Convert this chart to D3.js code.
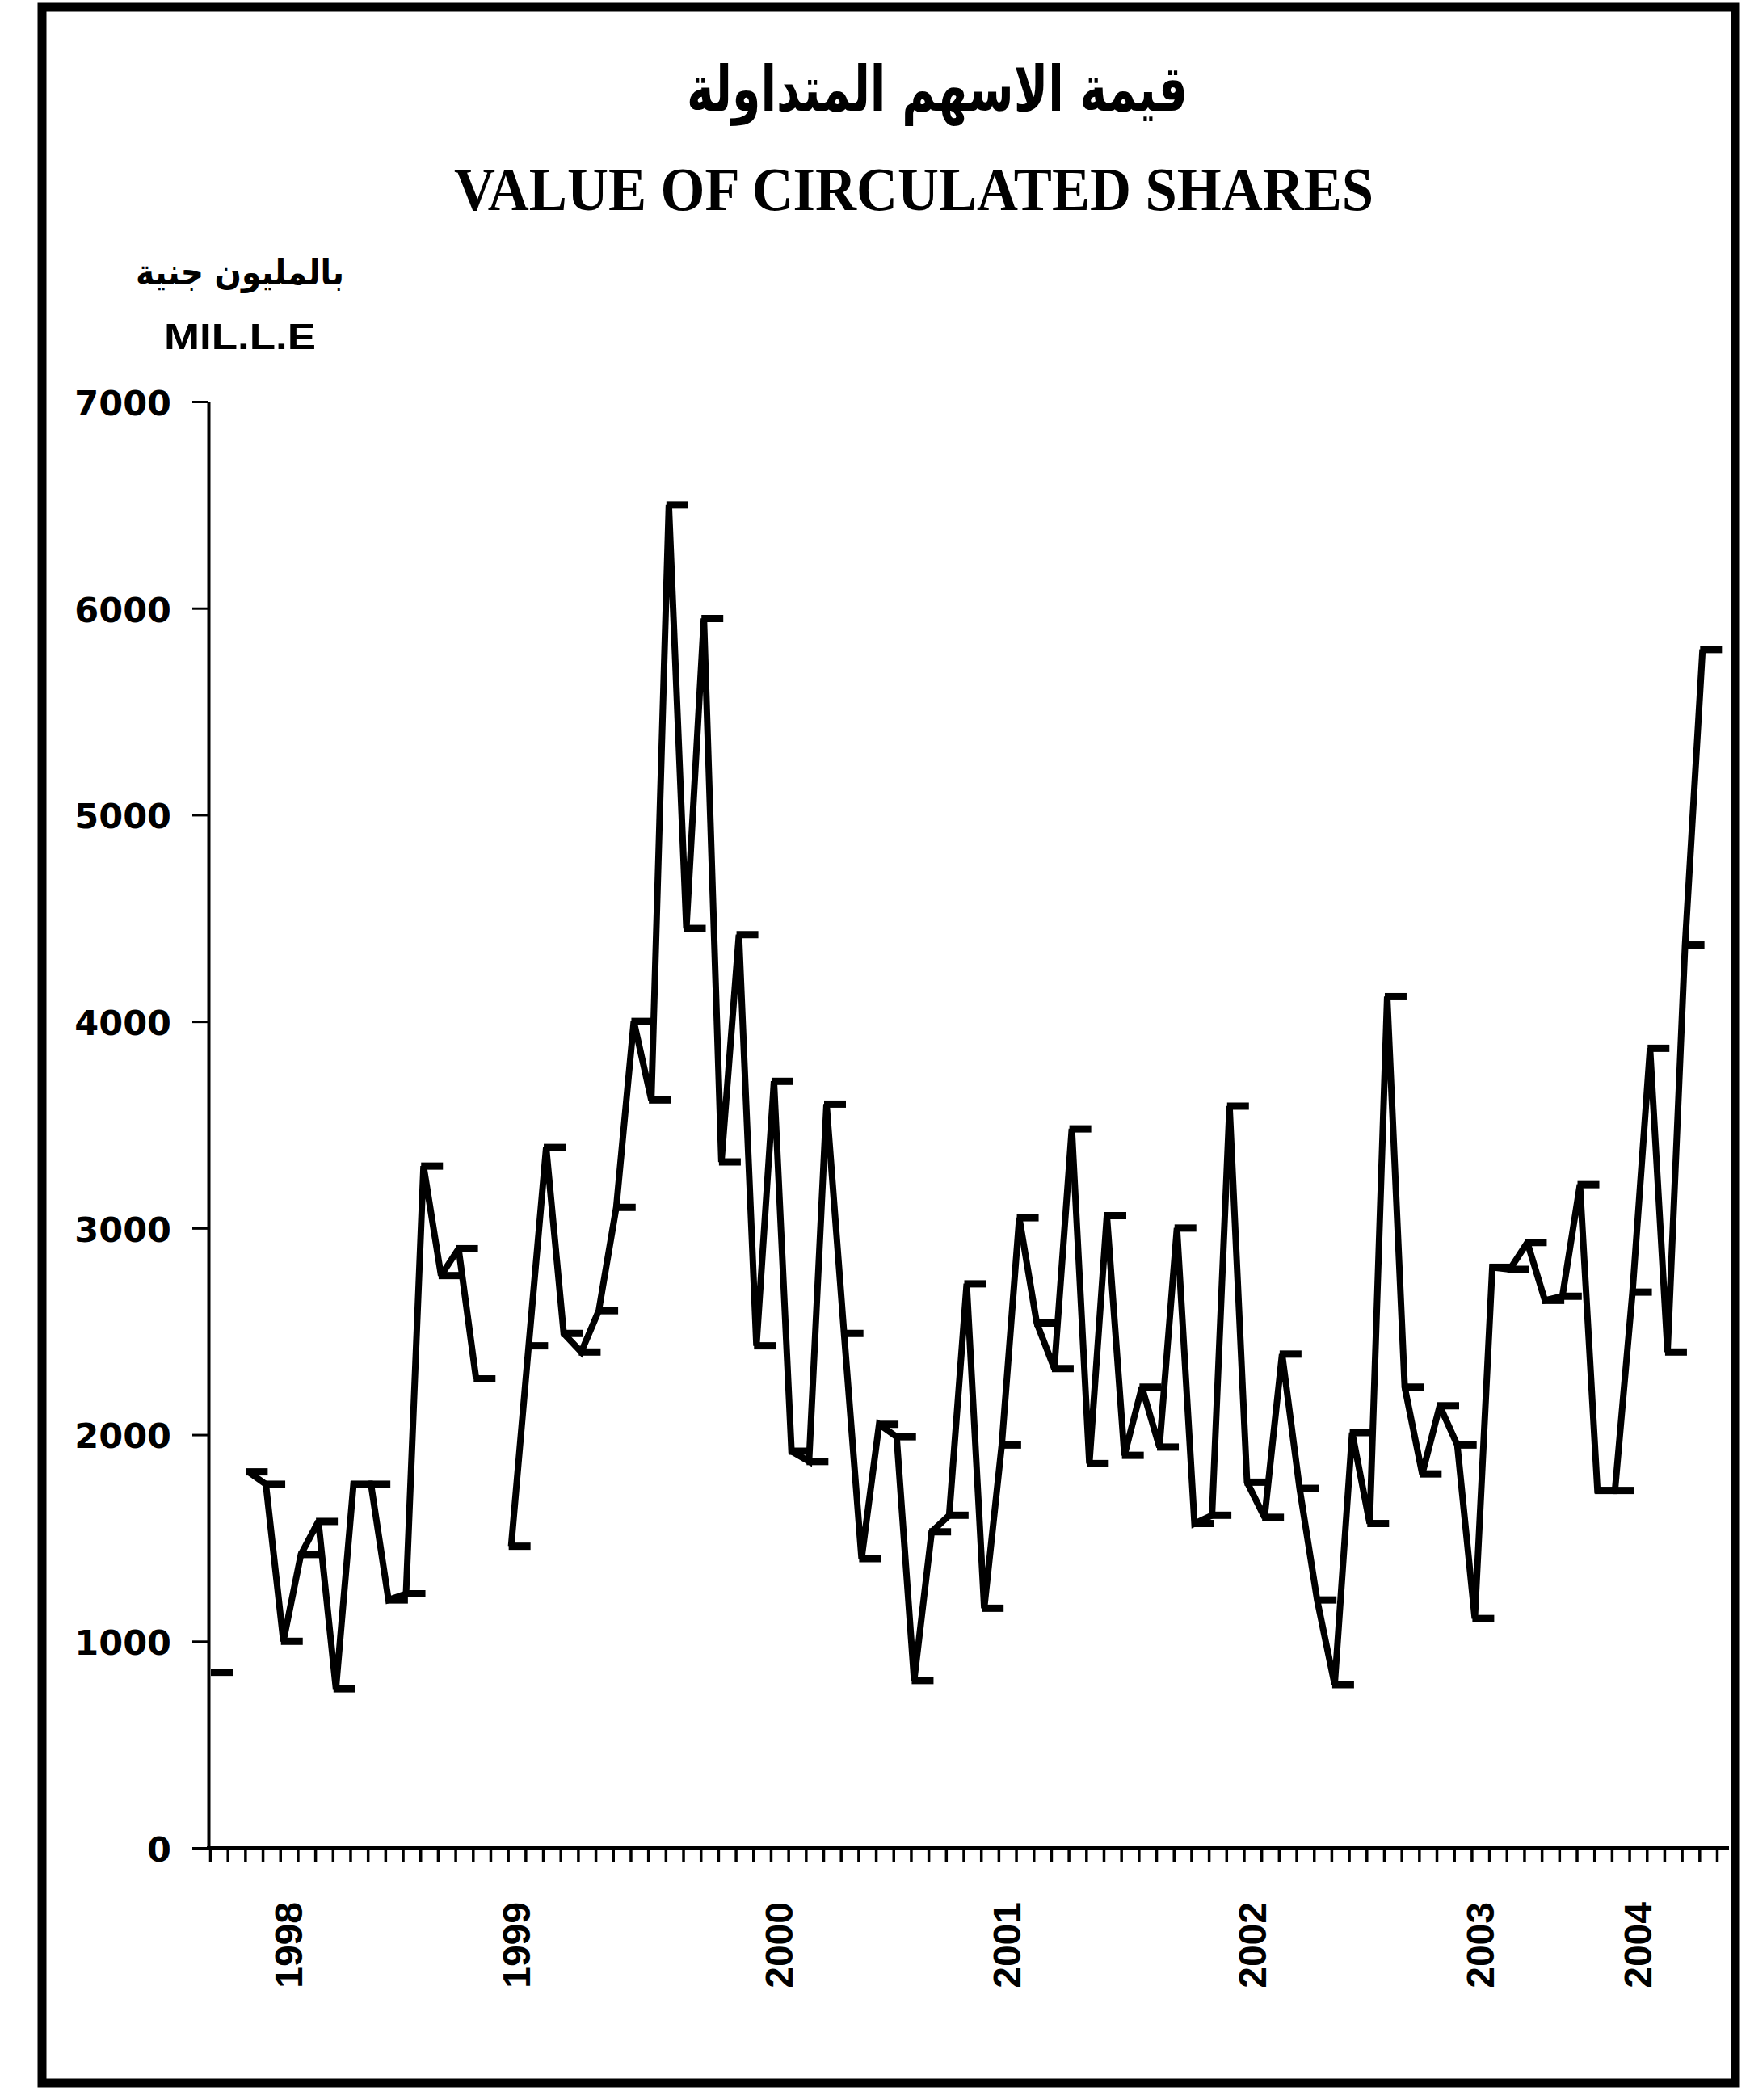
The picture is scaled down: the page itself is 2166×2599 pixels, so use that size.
<!DOCTYPE html>
<html>
<head>
<meta charset="utf-8">
<script src="https://cdn.jsdelivr.net/npm/d3@7"></script>
<style>
  html, body { margin: 0; padding: 0; background: #fff; }
  svg { display: block; }
</style>
</head>
<body>
<svg id="chart"></svg>
<script>
// ---- Chart text ----
const titleArabic = "قيمة الاسهم المتداولة";
const titleEnglish = "VALUE OF CIRCULATED SHARES";
const unitArabic = "بالمليون جنية";
const unitEnglish = "MIL.L.E";

// ---- Axis ticks ----
const yTickValues = [0, 1000, 2000, 3000, 4000, 5000, 6000, 7000];
const yearLabels = ["1998", "1999", "2000", "2001", "2002", "2003", "2004"];
// category index under which each year label is printed
const yearLabelIndex = [4, 17, 32, 45, 59, 72, 81];

// ---- Series: value of circulated shares, million L.E. (null = no data) ----
const shareValues = [
  850, null, 1820, 1760, 1000, 1420, 1580, 770, 1760, 1760,
  1200, 1230, 3300, 2770, 2900, 2270, null, 1460, 2430, 3390,
  2490, 2400, 2600, 3100, 4000, 3620, 6500, 4450, 5950, 3320,
  4420, 2430, 3710, 1920, 1870, 3600, 2490, 1400, 2050, 1990,
  810, 1530, 1610, 2730, 1160, 1950, 3050, 2540, 2320, 3480,
  1860, 3060, 1900, 2230, 1940, 3000, 1570, 1610, 3590, 1770,
  1600, 2390, 1740, 1200, 790, 2010, 1570, 4120, 2230, 1810,
  2140, 1950, 1110, 2810, 2800, 2930, 2650, 2670, 3210, 1730,
  1730, 2690, 3870, 2400, 4370, 5800
];

const W = 2166, H = 2599;
const svg = d3.select("#chart").attr("width", W).attr("height", H);
svg.append("rect").attr("width", W).attr("height", H).attr("fill", "#fff");

const plot = { left: 260, right: 2125, top: 497, bottom: 2287, edge: 2140 };
const N = shareValues.length;

const x = d3.scaleBand().domain(d3.range(N)).range([plot.left, plot.right]);
const xEdge = d3.scaleLinear().domain([0, N]).range([plot.left, plot.right]);
const y = d3.scaleLinear().domain([0, 7000]).range([plot.bottom, plot.top]);
const px = i => x(i) + 4;

// ---- Outer frame ----
svg.append("rect")
  .attr("x", 52).attr("y", 9)
  .attr("width", 2148 - 52).attr("height", 2578 - 9)
  .attr("fill", "none").attr("stroke", "#000").attr("stroke-width", 11);

// ---- Titles ----
svg.append("text")
  .attr("x", 1160).attr("y", 137)
  .attr("text-anchor", "middle")
  .attr("font-family", "'DejaVu Sans', sans-serif")
  .attr("font-weight", "bold").attr("font-size", 78)
  .attr("textLength", 620).attr("lengthAdjust", "spacingAndGlyphs")
  .text(titleArabic);

svg.append("text")
  .attr("x", 1131).attr("y", 260)
  .attr("text-anchor", "middle")
  .attr("font-family", "'Liberation Serif', 'Times New Roman', serif")
  .attr("font-weight", "bold").attr("font-size", 76)
  .attr("textLength", 1138).attr("lengthAdjust", "spacingAndGlyphs")
  .text(titleEnglish);

// ---- Unit labels ----
svg.append("text")
  .attr("x", 297).attr("y", 352)
  .attr("text-anchor", "middle")
  .attr("font-family", "'DejaVu Sans', sans-serif")
  .attr("font-weight", "bold").attr("font-size", 44)
  .attr("textLength", 258).attr("lengthAdjust", "spacingAndGlyphs")
  .text(unitArabic);

svg.append("text")
  .attr("x", 297).attr("y", 432)
  .attr("text-anchor", "middle")
  .attr("font-family", "'Liberation Sans', Arial, sans-serif")
  .attr("font-weight", "bold").attr("font-size", 44)
  .attr("textLength", 188).attr("lengthAdjust", "spacingAndGlyphs")
  .text(unitEnglish);

// ---- Y axis ----
const yAxis = svg.append("g")
  .attr("transform", `translate(${plot.left - 2},0)`)
  .call(d3.axisLeft(y).tickValues(yTickValues).tickSize(20).tickSizeOuter(0).tickPadding(26).tickFormat(d3.format("d")));
yAxis.select(".domain").attr("stroke", "#000").attr("stroke-width", 4);
yAxis.selectAll(".tick line").attr("stroke", "#000").attr("stroke-width", 3);
yAxis.selectAll(".tick text")
  .attr("fill", "#000")
  .attr("font-family", "'DejaVu Sans', Verdana, sans-serif")
  .attr("font-weight", "bold").attr("font-size", 43)
  .attr("dy", "0.38em");

// ---- X axis (category axis, ticks between categories) ----
const xAxis = svg.append("g")
  .attr("transform", `translate(0,${plot.bottom})`)
  .call(d3.axisBottom(xEdge).tickValues(d3.range(N + 1)).tickSize(18).tickSizeOuter(0).tickFormat(""));
xAxis.select(".domain").remove();
xAxis.selectAll(".tick line").attr("stroke", "#000").attr("stroke-width", 3.5);
svg.append("line")
  .attr("x1", plot.left - 4).attr("x2", plot.edge)
  .attr("y1", plot.bottom).attr("y2", plot.bottom)
  .attr("stroke", "#000").attr("stroke-width", 4);

svg.append("g").selectAll("text")
  .data(yearLabels)
  .join("text")
  .attr("transform", (d, k) => `translate(${x(yearLabelIndex[k]) + x.bandwidth() / 2},2354) rotate(-90)`)
  .attr("text-anchor", "end")
  .attr("dominant-baseline", "central")
  .attr("font-family", "'Liberation Sans', Arial, sans-serif")
  .attr("font-weight", "bold").attr("font-size", 48)
  .text(d => d);

// ---- Series line ----
const line = d3.line()
  .defined(d => d != null)
  .x((d, i) => px(i))
  .y(d => y(d));

svg.append("path")
  .datum(shareValues)
  .attr("d", line)
  .attr("fill", "none")
  .attr("stroke", "#000")
  .attr("stroke-width", 8)
  .attr("stroke-linejoin", "miter")
  .attr("stroke-miterlimit", 2);

// dash markers
svg.append("g").selectAll("path")
  .data(shareValues.map((v, i) => ({ v, i })).filter(d => d.v != null))
  .join("path")
  .attr("d", d => `M${px(d.i) - 3},${y(d.v)}h27`)
  .attr("stroke", "#000")
  .attr("stroke-width", 9)
  .attr("fill", "none");
</script>
</body>
</html>
